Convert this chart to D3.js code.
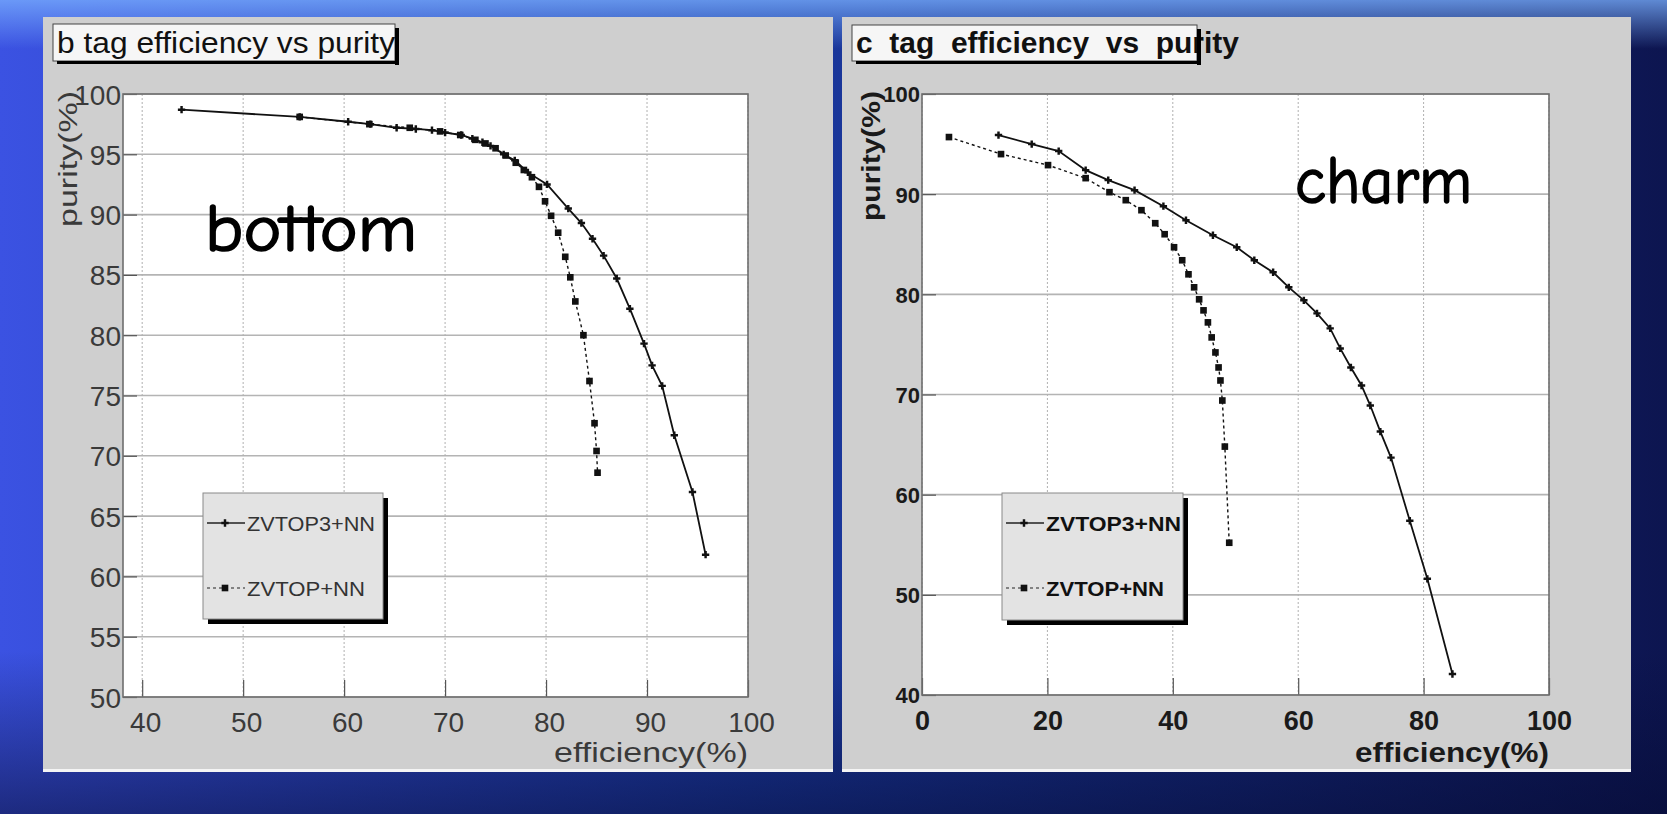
<!DOCTYPE html>
<html>
<head>
<meta charset="utf-8">
<script src="https://cdn.jsdelivr.net/npm/d3@7"></script>
<style>
  html, body { margin: 0; padding: 0; overflow: hidden; background: #14246a; }
  svg { display: block; }
  text { font-family: "Liberation Sans", Arial, sans-serif; }
</style>
</head>
<body>
<svg id="chart" width="1667" height="814"></svg>
<script>
// b tagging, efficiency (%) vs purity (%)
var bEffZ3 = [43.9, 55.6, 60.4, 62.6, 65.2, 67.1, 68.7, 70.0, 71.6, 72.7, 73.7, 74.5, 75.8, 76.9, 78.2, 80.1, 82.2, 83.5, 84.6, 85.7, 87.0, 88.3, 89.7, 90.5, 91.5, 92.7, 94.5, 95.8];
var bPurZ3 = [98.7, 98.1, 97.7, 97.5, 97.2, 97.1, 97.0, 96.8, 96.6, 96.3, 96.0, 95.7, 95.0, 94.5, 93.5, 92.5, 90.5, 89.3, 88.0, 86.6, 84.7, 82.2, 79.3, 77.5, 75.8, 71.7, 67.0, 61.8];
var bEffZ = [55.6, 62.5, 66.5, 69.5, 71.5, 73.0, 74.0, 75.0, 76.0, 77.0, 77.8, 78.6, 79.3, 79.9, 80.5, 81.2, 81.9, 82.4, 82.9, 83.7, 84.3, 84.8, 85.0, 85.1];
var bPurZ = [98.1, 97.5, 97.2, 96.9, 96.6, 96.2, 95.9, 95.5, 94.9, 94.3, 93.7, 93.1, 92.3, 91.1, 89.9, 88.5, 86.5, 84.8, 82.8, 80.0, 76.2, 72.7, 70.4, 68.6];

// c tagging
var cEffZ3 = [12.2, 17.5, 21.8, 26.1, 29.7, 33.9, 38.5, 42.1, 46.4, 50.2, 53.0, 56.0, 58.5, 60.9, 63.0, 65.1, 66.7, 68.4, 70.1, 71.5, 73.1, 74.8, 77.8, 80.6, 84.6];
var cPurZ3 = [95.9, 95.0, 94.3, 92.4, 91.4, 90.4, 88.8, 87.4, 85.9, 84.7, 83.4, 82.2, 80.7, 79.4, 78.1, 76.6, 74.6, 72.7, 70.9, 68.9, 66.3, 63.7, 57.4, 51.6, 42.1];
var cEffZ = [4.3, 12.6, 20.1, 26.1, 29.9, 32.5, 35.0, 37.2, 38.7, 40.2, 41.5, 42.5, 43.4, 44.2, 44.9, 45.6, 46.2, 46.8, 47.3, 47.6, 47.9, 48.3, 49.0];
var cPurZ = [95.7, 94.0, 92.9, 91.6, 90.2, 89.4, 88.4, 87.1, 86.0, 84.7, 83.4, 82.0, 80.7, 79.5, 78.4, 77.2, 75.7, 74.2, 72.7, 71.4, 69.4, 64.8, 55.2];

var seriesNames = ["ZVTOP3+NN", "ZVTOP+NN"];
var bXTicks = [40, 50, 60, 70, 80, 90, 100];
var bYTicks = [50, 55, 60, 65, 70, 75, 80, 85, 90, 95, 100];
var cXTicks = [0, 20, 40, 60, 80, 100];
var cYTicks = [40, 50, 60, 70, 80, 90, 100];

var svg = d3.select("#chart");
var defs = svg.append("defs");

var bg = defs.append("linearGradient").attr("id", "bg").attr("x1", 0).attr("y1", 0).attr("x2", 1).attr("y2", 0);
bg.append("stop").attr("offset", 0).attr("stop-color", "#3b52e2");
bg.append("stop").attr("offset", 0.45).attr("stop-color", "#1b3aa2");
bg.append("stop").attr("offset", 1).attr("stop-color", "#0d1550");
var shade = defs.append("linearGradient").attr("id", "shade").attr("x1", 0).attr("y1", 0).attr("x2", 0).attr("y2", 1);
shade.append("stop").attr("offset", 0).attr("stop-color", "#7ab0ff").attr("stop-opacity", 0.75);
shade.append("stop").attr("offset", 0.06).attr("stop-color", "#7ab0ff").attr("stop-opacity", 0);
shade.append("stop").attr("offset", 0.8).attr("stop-color", "#050a30").attr("stop-opacity", 0);
shade.append("stop").attr("offset", 1).attr("stop-color", "#050a30").attr("stop-opacity", 0.55);

svg.append("rect").attr("width", 1667).attr("height", 814).attr("fill", "url(#bg)");
svg.append("rect").attr("width", 1667).attr("height", 814).attr("fill", "url(#shade)");

var panels = [
  {
    pad: [43, 17, 833, 772], frame: [123, 94, 748, 697],
    xDomain: [38.1, 100], yDomain: [50, 100],
    xTicks: bXTicks, yTicks: bYTicks, xMinor: 2, yMinor: 1,
    bold: false, labelColor: "#3a3a3a",
    title: "b tag efficiency vs purity", titleBox: [53, 24, 342, 37], titleLen: 338,
    xLabelDx: 3, xLabelFont: 28, yLabelFont: 28,
    tag: "bottom", tagX: 205, tagY: 251, tagLen: 212,
    legend: [203, 493, 180, 126],
    series: [[bEffZ3, bPurZ3], [bEffZ, bPurZ]]
  },
  {
    pad: [842, 17, 1631, 772], frame: [922, 94, 1549, 695],
    xDomain: [0, 100], yDomain: [40, 100],
    xTicks: cXTicks, yTicks: cYTicks, xMinor: 5, yMinor: 2,
    bold: true, labelColor: "#1a1a1a",
    title: "c  tag  efficiency  vs  purity", titleBox: [852, 25, 345, 36], titleLen: 383,
    xLabelDx: 0, xLabelFont: 27, yLabelFont: 22,
    tag: "charm", tagX: 1295, tagY: 203, tagLen: 177,
    legend: [1002, 493, 181, 127],
    series: [[cEffZ3, cPurZ3], [cEffZ, cPurZ]]
  }
];

panels.forEach(function(p) {
  var g = svg.append("g");
  var f = p.frame;
  var weight = p.bold ? "bold" : "normal";

  g.append("rect")
    .attr("x", p.pad[0]).attr("y", p.pad[1])
    .attr("width", p.pad[2] - p.pad[0]).attr("height", p.pad[3] - p.pad[1])
    .attr("fill", "#cfcfcf");
  g.append("rect")
    .attr("x", p.pad[0]).attr("y", p.pad[3] - 3)
    .attr("width", p.pad[2] - p.pad[0]).attr("height", 3)
    .attr("fill", "#f4f4f4");

  var x = d3.scaleLinear().domain(p.xDomain).range([f[0], f[2]]);
  var y = d3.scaleLinear().domain(p.yDomain).range([f[3], f[1]]);

  g.append("rect")
    .attr("x", f[0]).attr("y", f[1])
    .attr("width", f[2] - f[0]).attr("height", f[3] - f[1])
    .attr("fill", "#ffffff");

  // grid
  g.selectAll(".hgrid").data(p.yTicks).enter().append("line")
    .attr("x1", f[0]).attr("x2", f[2])
    .attr("y1", function(d) { return y(d); }).attr("y2", function(d) { return y(d); })
    .attr("stroke", "#b4b4b4").attr("stroke-width", 1.6);
  g.selectAll(".vgrid").data(p.xTicks).enter().append("line")
    .attr("x1", function(d) { return x(d); }).attr("x2", function(d) { return x(d); })
    .attr("y1", f[1]).attr("y2", f[3])
    .attr("stroke", "#b0b0b0").attr("stroke-width", 1)
    .attr("stroke-dasharray", "2,2");

  // ticks
  var xMinor = d3.range(p.xTicks[0], p.xDomain[1] + 0.001, p.xMinor);
  var yMinor = d3.range(p.yDomain[0], p.yDomain[1] + 0.001, p.yMinor);
  var gx = g.append("g").attr("transform", "translate(0," + f[3] + ")");
  gx.call(d3.axisBottom(x).tickValues(xMinor).tickSize(-8).tickFormat(""));
  gx.call(d3.axisBottom(x).tickValues(p.xTicks).tickSize(-17).tickFormat(d3.format("d")));
  var gy = g.append("g").attr("transform", "translate(" + f[0] + ",0)");
  gy.call(d3.axisLeft(y).tickValues(yMinor).tickSize(-7).tickFormat(""));
  gy.call(d3.axisLeft(y).tickValues(p.yTicks).tickSize(-14).tickPadding(2).tickFormat(d3.format("d")));
  g.selectAll(".domain").remove();
  g.selectAll(".tick line").attr("stroke", "#555").attr("stroke-width", 1.2);

  gx.selectAll("text")
    .attr("y", 35).attr("dy", 0).attr("dx", p.xLabelDx)
    .attr("fill", p.labelColor).attr("font-size", p.xLabelFont).attr("font-weight", weight);
  gy.selectAll("text")
    .attr("dy", "0.36em")
    .attr("fill", p.labelColor).attr("font-size", p.yLabelFont).attr("font-weight", weight);

  // frame
  g.append("rect")
    .attr("x", f[0]).attr("y", f[1])
    .attr("width", f[2] - f[0]).attr("height", f[3] - f[1])
    .attr("fill", "none").attr("stroke", "#6e6e6e").attr("stroke-width", 1.6);

  // axis titles
  g.append("text")
    .attr("x", f[2]).attr("y", 762)
    .attr("text-anchor", "end")
    .attr("font-size", 27).attr("font-weight", weight).attr("fill", p.labelColor)
    .attr("textLength", 194).attr("lengthAdjust", "spacingAndGlyphs")
    .text("efficiency(%)");
  g.append("text")
    .attr("transform", "translate(" + (f[0] - (p.bold ? 42 : 46)) + "," + (f[1] - 3) + ") rotate(-90)")
    .attr("text-anchor", "end")
    .attr("font-size", 25).attr("font-weight", weight).attr("fill", p.labelColor)
    .attr("textLength", p.bold ? 130 : 136).attr("lengthAdjust", "spacingAndGlyphs")
    .text("purity(%)");

  // series
  var line = d3.line()
    .x(function(d) { return x(d[0]); })
    .y(function(d) { return y(d[1]); });
  var cross = d3.symbol().type(d3.symbolCross).size(30);
  var square = d3.symbol().type(d3.symbolSquare).size(44);

  p.series.forEach(function(s, i) {
    var pts = s[0].map(function(v, k) { return [v, s[1][k]]; });
    g.append("path")
      .datum(pts)
      .attr("d", line)
      .attr("fill", "none")
      .attr("stroke", "#111")
      .attr("stroke-width", i === 0 ? 1.8 : 1.4)
      .attr("stroke-dasharray", i === 0 ? null : "3,3");
    g.selectAll(".m" + i).data(pts).enter().append("path")
      .attr("transform", function(d) { return "translate(" + x(d[0]) + "," + y(d[1]) + ")"; })
      .attr("d", i === 0 ? cross : square)
      .attr("fill", "#111");
  });

  // tag text, comic-style font where available
  g.append("text")
    .attr("x", p.tagX).attr("y", p.tagY)
    .style("font-family", "\"Comic Sans MS\", \"Comic Neue\", \"DejaVu Sans\", sans-serif")
    .attr("font-size", 66).attr("fill", "#000")
    .attr("stroke", "#000").attr("stroke-width", 1.6)
    .attr("textLength", p.tagLen).attr("lengthAdjust", "spacingAndGlyphs")
    .text(p.tag);

  // legend
  var L = p.legend;
  var lg = g.append("g");
  lg.append("rect").attr("x", L[0] + 5).attr("y", L[1] + 5).attr("width", L[2]).attr("height", L[3]).attr("fill", "#000");
  lg.append("rect").attr("x", L[0]).attr("y", L[1]).attr("width", L[2]).attr("height", L[3])
    .attr("fill", "#e3e3e3").attr("stroke", "#8a8a8a").attr("stroke-width", 1);
  seriesNames.forEach(function(name, i) {
    var ly = L[1] + (i === 0 ? 30 : 95);
    lg.append("line")
      .attr("x1", L[0] + 4).attr("x2", L[0] + 42).attr("y1", ly).attr("y2", ly)
      .attr("stroke", "#222").attr("stroke-width", i === 0 ? 1.5 : 1.2)
      .attr("stroke-dasharray", i === 0 ? null : "3,3");
    lg.append("path")
      .attr("transform", "translate(" + (L[0] + 22) + "," + ly + ")")
      .attr("d", i === 0 ? cross : square)
      .attr("fill", "#111");
    lg.append("text")
      .attr("x", L[0] + 44).attr("y", ly + 8)
      .attr("font-size", 21).attr("font-weight", weight).attr("fill", p.bold ? "#111" : "#333")
      .attr("textLength", i === 0 ? (p.bold ? 135 : 128) : 118).attr("lengthAdjust", "spacingAndGlyphs")
      .text(name);
  });

  // title box
  var T = p.titleBox;
  g.append("rect").attr("x", T[0]).attr("y", T[1]).attr("width", T[2]).attr("height", T[3])
    .attr("fill", "#f6f6f6").attr("stroke", "#444").attr("stroke-width", 1);
  g.append("text")
    .attr("x", T[0] + 4).attr("y", 53)
    .attr("xml:space", "preserve")
    .attr("font-size", 29).attr("font-weight", weight).attr("fill", "#111")
    .attr("textLength", p.titleLen).attr("lengthAdjust", "spacingAndGlyphs")
    .text(p.title);
  g.append("rect").attr("x", T[0] + T[2]).attr("y", T[1] + 4).attr("width", 4).attr("height", T[3]).attr("fill", "#000");
  g.append("rect").attr("x", T[0] + 4).attr("y", T[1] + T[3]).attr("width", T[2]).attr("height", 3).attr("fill", "#000");
});
</script>
</body>
</html>
